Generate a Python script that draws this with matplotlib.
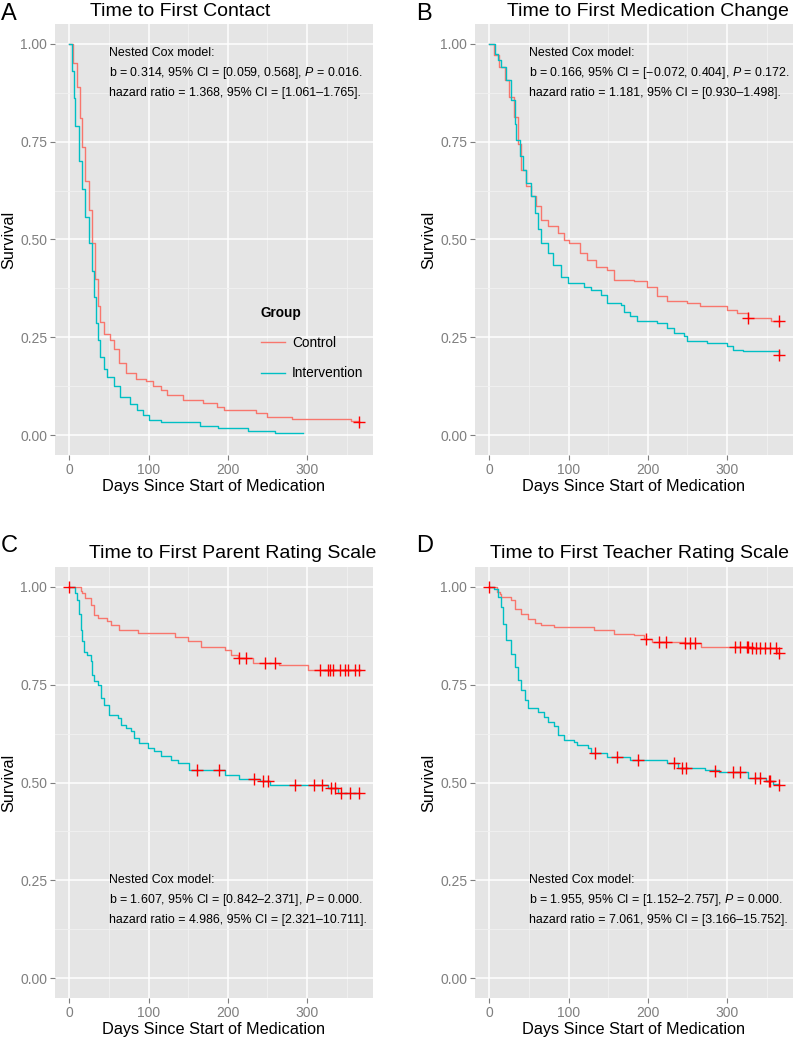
import matplotlib
matplotlib.use("Agg")
import matplotlib.pyplot as plt
from matplotlib.lines import Line2D

plt.rcParams['font.family'] = ['Liberation Sans', 'DejaVu Sans']
plt.rcParams['mathtext.fontset'] = 'custom'
plt.rcParams['mathtext.rm'] = 'Liberation Sans'
plt.rcParams['mathtext.it'] = 'Liberation Sans:italic'

CTRL = '#F8766D'
INTV = '#00BFC4'

# ---- panel A: time to first contact
a_ctrl_t = [0, 5, 9.7, 13, 16, 20, 24.4, 28.6, 32.8, 35.7, 39, 43, 51, 56, 62, 72, 84.6, 97, 106, 115, 123,
            143, 169, 186, 195, 235, 249, 281, 355, 365]
a_ctrl_s = [1.0, 0.95, 0.89, 0.81, 0.735, 0.65, 0.575, 0.49, 0.40, 0.33, 0.29, 0.26, 0.244, 0.22, 0.185, 0.16,
            0.145, 0.14, 0.127, 0.115, 0.103, 0.09, 0.082, 0.073, 0.065, 0.056, 0.048, 0.043, 0.037, 0.035]
a_int_t = [0, 3.4, 6.3, 7.6, 11.8, 16, 20, 24.4, 28.6, 30.7, 34, 35.7, 39, 44, 47.5, 56, 64, 76.5, 85, 93, 101,
           115, 165, 188, 226, 260, 295]
a_int_s = [1.0, 0.93, 0.86, 0.79, 0.70, 0.63, 0.557, 0.49, 0.42, 0.354, 0.287, 0.244, 0.20, 0.17, 0.15, 0.125,
           0.097, 0.08, 0.066, 0.053, 0.04, 0.033, 0.024, 0.018, 0.012, 0.006, 0.006]
a_cens_t = [365]
a_cens_s = [0.035]

# ---- panel B: time to first medication change
b_ctrl_t = [0, 6, 12, 19, 25, 31.6, 36, 40, 46, 52.7, 59, 65, 74, 86, 94.5, 100, 114, 122.7, 135, 149, 157,
            182.5, 199, 211.7, 224, 249, 266, 299.6, 312, 326.6, 355, 365]
b_ctrl_s = [1.0, 0.97, 0.94, 0.906, 0.864, 0.813, 0.745, 0.678, 0.636, 0.61, 0.585, 0.551, 0.534, 0.517, 0.499,
            0.49, 0.465, 0.448, 0.431, 0.422, 0.397, 0.393, 0.38, 0.355, 0.342, 0.338, 0.33, 0.321, 0.313, 0.30,
            0.293, 0.293]
b_int_t = [0, 6.7, 10.9, 15, 21, 27.6, 31.8, 33.8, 38, 42, 46.4, 52.7, 56.9, 61, 65.2, 73.6, 79.9, 90.3, 98.7,
           119.6, 128, 140.5, 149, 165.6, 169.8, 178, 186.6, 211.7, 224, 232.5, 245, 249.3, 274.4, 299.5, 307.8,
           320.4, 365]
b_int_s = [1.0, 0.974, 0.957, 0.94, 0.906, 0.855, 0.796, 0.754, 0.712, 0.678, 0.644, 0.61, 0.568, 0.526, 0.49,
           0.465, 0.435, 0.405, 0.389, 0.38, 0.371, 0.359, 0.338, 0.333, 0.316, 0.304, 0.291, 0.287, 0.274, 0.261,
           0.253, 0.24, 0.236, 0.227, 0.219, 0.2145, 0.206]
b_cens_t = [327, 365, 365]
b_cens_s = [0.30, 0.293, 0.206]

# ---- panel C: time to first parent rating scale
c_ctrl_t = [0, 14, 16, 20, 27, 31.5, 35.7, 48, 52.7, 63, 86, 133, 149.5, 166, 196, 204, 213, 232, 265, 301, 365]
c_ctrl_s = [1.0, 0.99, 0.983, 0.97, 0.953, 0.928, 0.919, 0.911, 0.902, 0.889, 0.881, 0.872, 0.86, 0.847, 0.838,
            0.826, 0.817, 0.805, 0.799, 0.788, 0.788]
c_int_t = [0, 7.6, 9.7, 11.8, 14.7, 16, 18, 22, 27, 29, 31.5, 35.7, 40, 44, 50.5, 61, 65, 71.5, 78, 82, 88.3, 99,
           107, 115.6, 128, 137, 151.5, 196.7, 213.5, 241, 253.5, 327, 339.6, 365]
c_int_s = [1.0, 0.983, 0.966, 0.93, 0.89, 0.86, 0.834, 0.826, 0.81, 0.775, 0.758, 0.75, 0.716, 0.699, 0.673,
           0.665, 0.648, 0.64, 0.631, 0.614, 0.6, 0.588, 0.58, 0.567, 0.558, 0.55, 0.533, 0.519, 0.51, 0.504,
           0.494, 0.486, 0.473, 0.473]
c_cens_t = [0, 214, 223, 247, 260, 316.5, 327, 329, 333, 341.7, 348, 352, 360.6, 365,
            161, 188.3, 233.3, 244.6, 250.8, 285, 308.5, 319, 330, 335.4, 342.6, 354.4, 365]
c_cens_s = [1.0, 0.817, 0.817, 0.805, 0.805, 0.788, 0.788, 0.788, 0.788, 0.788, 0.788, 0.788, 0.788, 0.788,
            0.533, 0.533, 0.51, 0.504, 0.504, 0.494, 0.494, 0.494, 0.486, 0.486, 0.473, 0.473, 0.473]

# ---- panel D: time to first teacher rating scale
d_ctrl_t = [0, 9, 13, 15, 27.6, 31.8, 40, 48.5, 57, 65, 82, 132, 157, 182, 195, 205, 246, 267.6, 330, 363, 365]
d_ctrl_s = [1.0, 0.986, 0.98, 0.973, 0.965, 0.944, 0.931, 0.918, 0.906, 0.902, 0.897, 0.888, 0.88, 0.876, 0.867,
            0.859, 0.855, 0.846, 0.842, 0.831, 0.831]
d_int_t = [0, 6, 10.5, 15, 17, 21, 27.6, 31.8, 36, 40, 44.3, 48.5, 61, 69.4, 73.6, 82, 86, 94.5, 107, 111, 124,
           128, 148.5, 178, 224, 238, 272, 290, 327, 349.7, 357.6, 365]
d_int_s = [1.0, 0.994, 0.973, 0.947, 0.905, 0.863, 0.829, 0.795, 0.761, 0.736, 0.71, 0.689, 0.681, 0.668, 0.655,
           0.643, 0.621, 0.609, 0.604, 0.596, 0.587, 0.575, 0.566, 0.557, 0.549, 0.536, 0.532, 0.526, 0.511,
           0.505, 0.496, 0.494]
d_cens_t = [0, 198, 213.6, 222.8, 246.6, 253, 259, 310, 316, 324.6, 326.6, 330.9, 337, 341.3, 347.6, 353.8,
            362, 365,
            133.8, 161, 187.6, 232.5, 243, 248, 284.8, 307.8, 316, 335, 341, 353, 354.6, 365]
d_cens_s = [1.0, 0.867, 0.859, 0.859, 0.855, 0.855, 0.855, 0.846, 0.846, 0.846, 0.846, 0.842, 0.842, 0.842,
            0.842, 0.842, 0.842, 0.831,
            0.575, 0.566, 0.557, 0.549, 0.536, 0.536, 0.53, 0.526, 0.526, 0.511, 0.511, 0.505, 0.505, 0.494]

titles = ["Time to First Contact", "Time to First Medication Change",
          "Time to First Parent Rating Scale", "Time to First Teacher Rating Scale"]
letters = ["A", "B", "C", "D"]
notes = [
    ["Nested Cox model:",
     "b = 0.314, 95% CI = [0.059, 0.568], $P$ = 0.016.",
     "hazard ratio = 1.368, 95% CI = [1.061\u20131.765]."],
    ["Nested Cox model:",
     "b = 0.166, 95% CI = [\u22120.072, 0.404], $P$ = 0.172.",
     "hazard ratio = 1.181, 95% CI = [0.930\u20131.498]."],
    ["Nested Cox model:",
     "b = 1.607, 95% CI = [0.842\u20132.371], $P$ = 0.000.",
     "hazard ratio = 4.986, 95% CI = [2.321\u201310.711]."],
    ["Nested Cox model:",
     "b = 1.955, 95% CI = [1.152\u20132.757], $P$ = 0.000.",
     "hazard ratio = 7.061, 95% CI = [3.166\u201315.752]."],
]
note_y = [0.975, 0.975, 0.25, 0.25]

W, H = 795, 1040
fig = plt.figure(figsize=(W / 100, H / 100), dpi=100)

# pixel boxes: left, top (all panels 318 x 431 px)
boxes = [(55, 24), (475, 24), (55, 567), (475, 567)]
title_pos = [(180, 12), (648, 12), (233, 553), (639, 553)]
letter_pos = [(1, 14), (416, 14), (1, 546), (416, 546)]

data = [
    (a_ctrl_t, a_ctrl_s, a_int_t, a_int_s, a_cens_t, a_cens_s),
    (b_ctrl_t, b_ctrl_s, b_int_t, b_int_s, b_cens_t, b_cens_s),
    (c_ctrl_t, c_ctrl_s, c_int_t, c_int_s, c_cens_t, c_cens_s),
    (d_ctrl_t, d_ctrl_s, d_int_t, d_int_s, d_cens_t, d_cens_s),
]

for i in range(4):
    l, t = boxes[i]
    ax = fig.add_axes([l / W, 1 - (t + 431) / H, 318 / W, 431 / H])
    ax.set_facecolor('#E5E5E5')
    for sp in ax.spines.values():
        sp.set_visible(False)
    ax.set_xlim(-18.25, 383.25)
    ax.set_ylim(-0.05, 1.05)
    ax.set_xticks([0, 100, 200, 300])
    ax.set_xticks([50, 150, 250, 350], minor=True)
    ax.set_yticks([0, 0.25, 0.5, 0.75, 1.0])
    ax.set_yticklabels(["0.00", "0.25", "0.50", "0.75", "1.00"])
    ax.set_yticks([0.125, 0.375, 0.625, 0.875], minor=True)
    ax.grid(which='major', color='white', linewidth=1.1)
    ax.grid(which='minor', color='#F2F2F2', linewidth=0.6)
    ax.set_axisbelow(True)
    ax.tick_params(which='major', length=3.5, width=0.8, color='#7F7F7F', labelcolor='#7F7F7F',
                   labelsize=10, pad=2)
    ax.tick_params(which='minor', length=0)

    ct, cs, it, is_, et, es = data[i]
    ax.step(ct, cs, where='post', color=CTRL, lw=1.0)
    ax.step(it, is_, where='post', color=INTV, lw=1.0)
    ax.plot(et, es, linestyle='none', marker='+', color='red', markersize=8.5, mew=1.0)

    ax.set_xlabel("Days Since Start of Medication", fontsize=11.7, labelpad=2)
    ax.set_ylabel("Survival", fontsize=11.7, labelpad=3)

    for k, line in enumerate(notes[i]):
        ax.text(50, note_y[i] - 0.05 * k, line, fontsize=8.9, ha='left', va='center')

    tx, ty = title_pos[i]
    fig.text(tx / W, 1 - ty / H, titles[i], fontsize=14, ha='center', va='center')
    lx, ly = letter_pos[i]
    fig.text(lx / W, 1 - ly / H, letters[i], fontsize=17, ha='left', va='center')

    if i == 0:
        handles = [Line2D([], [], color=CTRL, lw=1.0), Line2D([], [], color=INTV, lw=1.0)]
        leg = ax.legend(handles, ["Control", "Intervention"], title="Group", loc='upper left',
                        bbox_to_anchor=(0.625, 0.362), frameon=False, fontsize=9.8,
                        title_fontproperties={'weight': 'bold', 'size': 9.8},
                        handlelength=1.8, handletextpad=0.5, labelspacing=1.2, borderpad=0,
                        alignment='left')

fig.savefig("out.png", dpi=100)
